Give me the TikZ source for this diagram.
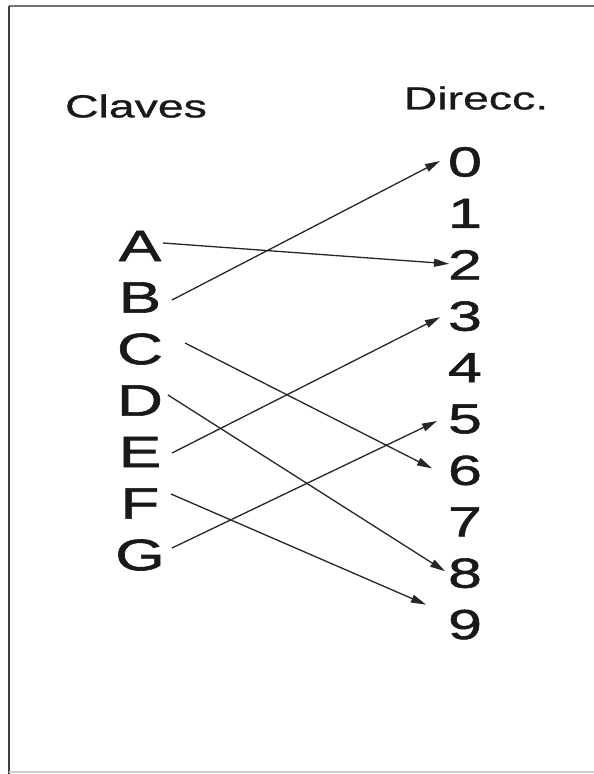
\documentclass[tikz,border=0pt]{standalone}
\usepackage{fontspec}
\usetikzlibrary{arrows.meta,calc}
\newfontfamily\widefont[FakeStretch=1.45,FakeBold=1.3]{Liberation Sans}
\newfontfamily\wideheadfont[FakeStretch=1.45,FakeBold=0.8]{Liberation Sans}
\tikzset{
  key/.style={inner sep=0pt, font=\widefont\fontsize{44}{44}\selectfont, text=black!90},
  addr/.style={inner sep=0pt, font=\widefont\fontsize{42}{42}\selectfont, text=black!90},
  head/.style={inner sep=0pt, font=\wideheadfont\fontsize{32}{32}\selectfont, text=black!90},
  arr/.style={line width=1.3pt, draw=black!85, -{Triangle[length=15pt,width=8pt]}},
  frame/.style={line width=1.3pt}
}
\begin{document}
\begin{tikzpicture}[x=1pt,y=-1pt]
\useasboundingbox (0,0) rectangle (594,774);
\fill[white] (0,0) rectangle (594,774);
% frame
\coordinate (tl) at (9,6);
\coordinate (tr) at (594,6);
\coordinate (bl) at (9,774);
\coordinate (bl2) at (9,772);
\coordinate (br) at (594,772);
\draw[frame, draw=black!55] (tl) -- (tr);
\draw[frame, draw=black!75] (tl) -- (bl);
\draw[frame, draw=black!20] (bl2) -- (br);
% headings
\node[head] (claves) at (136,106) {Claves};
\node[head] (direcc) at (476,98) {Direcc.};
% keys
\node[key] (A) at (140,246) {A};
\node[key] (B) at (140,297.5) {B};
\node[key] (C) at (140,349) {C};
\node[key] (D) at (140,400.5) {D};
\node[key] (E) at (140,452) {E};
\node[key] (F) at (140,503.5) {F};
\node[key] (G) at (140,555) {G};
% addresses
\foreach \i in {0,...,9} {
  \node[addr] (n\i) at (465,{162+51.4*\i}) {\i};
}
% arrows
\draw[arr] ($(A)+(23,-3)$) -- ($(n2)+(-16,-1)$);
\draw[arr] ($(B)+(32,2.5)$) -- ($(n0)+(-25,-1)$);
\draw[arr] ($(C)+(45,-6)$) -- ($(n6)+(-33,-2)$);
\draw[arr] ($(D)+(28,-5.5)$) -- ($(n8)+(-20,-2)$);
\draw[arr] ($(E)+(32,1)$) -- ($(n3)+(-25,1)$);
\draw[arr] ($(F)+(31,-9.5)$) -- ($(n9)+(-39,-20)$);
\draw[arr] ($(G)+(32,-7)$) -- ($(n5)+(-28,2)$);
\end{tikzpicture}
\end{document}
